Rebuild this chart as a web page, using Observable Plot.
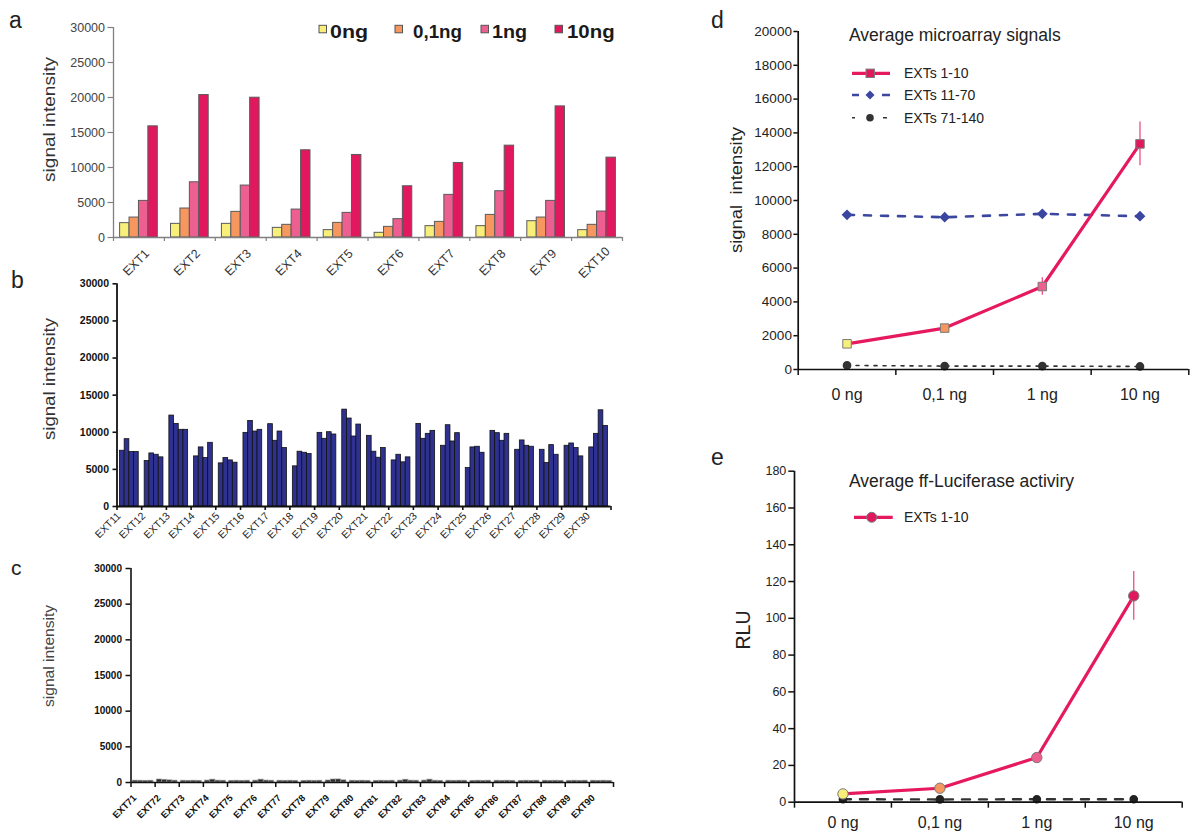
<!DOCTYPE html>
<html><head><meta charset="utf-8">
<script src="https://cdn.jsdelivr.net/npm/d3@7"></script>
<script src="https://cdn.jsdelivr.net/npm/@observablehq/plot@0.6"></script>
<style>
html,body{margin:0;padding:0;background:#fff;}
#wrap{position:relative;width:1192px;height:837px;overflow:hidden;background:#fff;}
</style></head><body><div id="wrap"></div>
<script>
// ---------- DATA ----------
// panel a
const extA = ["EXT1","EXT2","EXT3","EXT4","EXT5","EXT6","EXT7","EXT8","EXT9","EXT10"];
const dosesA = ["0ng","0,1ng","1ng","10ng"];
const doseColors = ["#f7ef7a","#f5975f","#ec5f90","#e2185e"];
const a0  = [2050,1950,1950,1380,1050,670,1620,1620,2330,1050];
const a01 = [2850,4140,3660,1810,2090,1520,2230,3230,2850,1810];
const a1  = [5230,7890,7420,3990,3520,2620,6090,6610,5230,3710];
const a10 = [15880,20350,19970,12460,11790,7320,10650,13120,18730,11410];
const yTicksABC = [0,5000,10000,15000,20000,25000,30000];
// panel b
const extB = ["EXT11","EXT12","EXT13","EXT14","EXT15","EXT16","EXT17","EXT18","EXT19","EXT20","EXT21","EXT22","EXT23","EXT24","EXT25","EXT26","EXT27","EXT28","EXT29","EXT30"];
const b0 = [7510,6120,12250,6750,5810,9920,11090,5410,9920,13050,9520,6210,11130,8180,5190,10190,7640,7640,8180,7960];
const b1 = [9070,7150,11130,7960,6530,11530,8850,7380,9120,11850,7380,6970,9120,10950,7960,9880,8900,5860,8490,9790];
const b2 = [7330,6970,10330,6530,6210,10100,10100,7240,10010,9430,6570,5950,9790,8760,8050,8850,8180,8270,7870,12960];
const b3 = [7330,6620,10330,8580,5900,10330,7870,7060,9700,11040,7870,6620,10190,9880,7240,9790,8050,6970,6750,10860];
// panel c
const extC = ["EXT71","EXT72","EXT73","EXT74","EXT75","EXT76","EXT77","EXT78","EXT79","EXT80","EXT81","EXT82","EXT83","EXT84","EXT85","EXT86","EXT87","EXT88","EXT89","EXT90"];
const c0 = [260,420,250,270,240,260,250,240,280,250,240,260,270,250,240,250,240,250,240,250];
const c1 = [250,380,240,400,250,400,240,250,420,240,250,390,400,240,250,240,250,240,250,240];
const c2 = [240,300,250,260,240,270,250,240,430,250,240,260,250,250,240,250,240,250,240,250];
const c3 = [250,260,240,250,250,250,240,250,300,240,250,250,240,250,250,240,250,240,250,240];
// panel d
const dosesD = ["0 ng","0,1 ng","1 ng","10 ng"];
const ext1_10   = [1520,2450,4910,13350];
const err1_10   = [100,150,520,1300];
const ext11_70  = [9150,9010,9210,9070];
const ext71_140 = [240,200,200,180];
const seriesD = ["EXTs 1-10","EXTs 11-70","EXTs 71-140"];
const yTicksD = [0,2000,4000,6000,8000,10000,12000,14000,16000,18000,20000];
// panel e
const rlu1_10 = [4.5,7.6,24.3,112.2];
const errRlu  = [0.5,0.8,1.5,13.3];
const rluCtrl = [1.6,1.5,1.6,1.6];
const yTicksE = [0,20,40,60,80,100,120,140,160,180];

// ---------- HELPERS ----------
const W = 1192, H = 837;
const FONT = '"Liberation Sans", Arial, Helvetica, sans-serif';
const wrap = document.getElementById("wrap");
function place(svg, left, top) {
  svg.style.position = "absolute";
  svg.style.left = left + "px";
  svg.style.top = top + "px";
  wrap.appendChild(svg);
}
function grouped(cats, series, names, pad) {
  const n = series.length, w = (1 - 2 * pad) / n;
  return cats.flatMap((c, i) => series.map((s, j) => ({
    cat: c, series: names[j], value: s[i],
    x1: i + pad + j * w, x2: i + pad + (j + 1) * w
  })));
}
const baseStyle = {background: "transparent", overflow: "visible", fontFamily: FONT};

// ---------- PANEL A ----------
const rowsA = grouped(extA, [a0, a01, a1, a10], dosesA, 0.13);
place(Plot.plot({
  width: 640, height: 290, marginLeft: 113, marginRight: 18, marginTop: 27, marginBottom: 53,
  style: baseStyle,
  x: {type: "linear", domain: [0, extA.length], axis: null},
  y: {domain: [0, 30000], axis: null},
  color: {domain: dosesA, range: doseColors},
  marks: [
    Plot.rect(rowsA, {x1: "x1", x2: "x2", y1: 0, y2: "value", fill: "series", stroke: "#5a5a5a", strokeWidth: 1}),
    Plot.ruleX([0], {stroke: "#808080", strokeWidth: 1.3}),
    Plot.ruleY([0], {stroke: "#808080", strokeWidth: 1.3}),
    Plot.axisY({ticks: yTicksABC, tickSize: 5.5, tickPadding: 3, tickFormat: d => String(d), fontSize: 12.5, fill: "#444", stroke: "#808080", strokeWidth: 1.2, label: null}),
    Plot.axisX({ticks: d3.range(0, extA.length + 1), tickSize: 4, tickFormat: () => "", stroke: "#808080", strokeWidth: 1.2, label: null}),
    Plot.text(extA, {x: (d, i) => i + 0.5, frameAnchor: "bottom", text: d => d, rotate: -45, textAnchor: "middle", dy: 28, fontSize: 12.5, fill: "#333"})
  ]
}), 0, 0);

// ---------- PANEL B ----------
const rowsB = grouped(extB, [b0, b1, b2, b3], dosesA, 0.12);
place(Plot.plot({
  width: 640, height: 300, marginLeft: 116.5, marginRight: 29.5, marginTop: 13.3, marginBottom: 64,
  style: baseStyle,
  x: {type: "linear", domain: [0, extB.length], axis: null},
  y: {domain: [0, 30000], axis: null},
  marks: [
    Plot.rect(rowsB, {x1: "x1", x2: "x2", y1: 0, y2: "value", fill: "#2e3190", stroke: "#111", strokeWidth: 0.8}),
    Plot.ruleX([0], {stroke: "#111", strokeWidth: 1.8}),
    Plot.ruleY([0], {stroke: "#111", strokeWidth: 1.8}),
    Plot.axisY({ticks: yTicksABC, tickSize: 4, tickPadding: 4, tickFormat: d => String(d), fontSize: 10.5, fontWeight: "bold", fill: "#111", stroke: "#111", strokeWidth: 1.6, label: null}),
    Plot.axisX({ticks: d3.range(0, extB.length + 1), tickSize: 4, tickFormat: () => "", stroke: "#111", strokeWidth: 1.6, label: null}),
    Plot.text(extB, {x: (d, i) => i + 0.5, frameAnchor: "bottom", text: d => d, rotate: -45, textAnchor: "end", dx: -8, dy: 10, fontSize: 10.5, fill: "#222"})
  ]
}), 0, 270);

// ---------- PANEL C ----------
const rowsC = grouped(extC, [c0, c1, c2, c3], dosesA, 0.07);
place(Plot.plot({
  width: 640, height: 282, marginLeft: 130.5, marginRight: 27, marginTop: 13, marginBottom: 55,
  style: baseStyle,
  x: {type: "linear", domain: [0, extC.length], axis: null},
  y: {domain: [0, 30000], axis: null},
  marks: [
    Plot.rect(rowsC, {x1: "x1", x2: "x2", y1: 0, y2: "value", fill: "#2a2a2a", stroke: "#9a9a9a", strokeWidth: 0.7}),
    Plot.ruleX([0], {stroke: "#111", strokeWidth: 1.6}),
    Plot.ruleY([0], {stroke: "#111", strokeWidth: 1.6}),
    Plot.axisY({ticks: yTicksABC, tickSize: 5, tickPadding: 4, tickFormat: d => String(d), fontSize: 10, fontWeight: "bold", fill: "#111", stroke: "#111", strokeWidth: 1.5, label: null}),
    Plot.axisX({ticks: d3.range(0, extC.length + 1), tickSize: 5, tickFormat: () => "", stroke: "#111", strokeWidth: 1.5, label: null}),
    Plot.text(extC, {x: (d, i) => i + 0.5, frameAnchor: "bottom", text: d => d, rotate: -45, textAnchor: "end", dx: -6, dy: 16, fontSize: 9.5, fontWeight: "bold", fill: "#111"})
  ]
}), 0, 555);

// ---------- PANEL D ----------
const rowsD = dosesD.map((d, i) => ({i, dose: d, a: ext1_10[i], e: err1_10[i], b: ext11_70[i], c: ext71_140[i]}));
const xc = d => d.i + 0.5;
place(Plot.plot({
  width: 492, height: 420, marginLeft: 97.7, marginRight: 3.7, marginTop: 31, marginBottom: 51,
  style: baseStyle,
  x: {type: "linear", domain: [0, dosesD.length], axis: null},
  y: {domain: [0, 20000], axis: null},
  color: {domain: dosesD, range: doseColors},
  marks: [
    Plot.line(rowsD, {x: xc, y: "c", stroke: "#333", strokeWidth: 1.6, strokeDasharray: "3,6"}),
    Plot.dot(rowsD, {x: xc, y: "c", r: 3.6, fill: "#333", stroke: "#333"}),
    Plot.line(rowsD, {x: xc, y: "b", stroke: "#3a46a0", strokeWidth: 2.6, strokeDasharray: "7,10"}),
    Plot.dot(rowsD, {x: xc, y: "b", symbol: "diamond2", r: 3.9, fill: "#3a46a0", stroke: "#3a46a0"}),
    Plot.line(rowsD, {x: xc, y: "a", stroke: "#e6195e", strokeWidth: 3.2}),
    Plot.ruleX(rowsD, {x: xc, y1: d => d.a - d.e, y2: d => d.a + d.e, stroke: "#ec4f85", strokeWidth: 1.3}),
    Plot.dot(rowsD, {x: xc, y: "a", symbol: "square", r: 4.8, fill: "dose", stroke: "#7a7a7a", strokeWidth: 1}),
    Plot.ruleX([0], {stroke: "#111", strokeWidth: 1.7}),
    Plot.ruleY([0], {stroke: "#111", strokeWidth: 1.7}),
    Plot.axisY({ticks: yTicksD, tickSize: 4.3, tickPadding: 2, tickFormat: d => String(d), fontSize: 13.5, fill: "#222", stroke: "#111", strokeWidth: 1.5, label: null}),
    Plot.axisX({ticks: d3.range(0, dosesD.length + 1), tickSize: 6, tickFormat: () => "", stroke: "#111", strokeWidth: 1.5, label: null}),
    Plot.text(dosesD, {x: (d, i) => i + 0.5, frameAnchor: "bottom", text: d => d, dy: 30, fontSize: 16, fill: "#222"})
  ]
}), 700, 0);

// ---------- PANEL E ----------
const rowsE = dosesD.map((d, i) => ({i, dose: d, a: rlu1_10[i], e: errRlu[i], c: rluCtrl[i]}));
place(Plot.plot({
  width: 492, height: 397, marginLeft: 94, marginRight: 10.3, marginTop: 30.7, marginBottom: 35.3,
  style: baseStyle,
  x: {type: "linear", domain: [0, dosesD.length], axis: null},
  y: {domain: [0, 180], axis: null},
  color: {domain: dosesD, range: doseColors},
  marks: [
    Plot.line(rowsE, {x: xc, y: "c", stroke: "#333", strokeWidth: 2.4, strokeDasharray: "8,9"}),
    Plot.dot(rowsE, {x: xc, y: "c", r: 3.6, fill: "#222", stroke: "#222"}),
    Plot.line(rowsE, {x: xc, y: "a", stroke: "#e6195e", strokeWidth: 3.2}),
    Plot.ruleX(rowsE, {x: xc, y1: d => d.a - d.e, y2: d => d.a + d.e, stroke: "#ec4f85", strokeWidth: 1.3}),
    Plot.dot(rowsE, {x: xc, y: "a", r: 5.2, fill: "dose", stroke: "#7a7a7a", strokeWidth: 1}),
    Plot.ruleX([0], {stroke: "#111", strokeWidth: 1.7}),
    Plot.ruleY([0], {stroke: "#111", strokeWidth: 1.7}),
    Plot.axisY({ticks: yTicksE, tickSize: 5.7, tickPadding: 2.5, tickFormat: d => String(d), fontSize: 12.5, fill: "#222", stroke: "#111", strokeWidth: 1.5, label: null}),
    Plot.axisX({ticks: d3.range(0, dosesD.length + 1), tickSize: 6, tickFormat: () => "", stroke: "#111", strokeWidth: 1.5, label: null}),
    Plot.text(dosesD, {x: (d, i) => i + 0.5, frameAnchor: "bottom", text: d => d, dy: 26, fontSize: 16, fill: "#222"})
  ]
}), 700, 440);

// ---------- OVERLAY: panel letters, axis titles, titles, legends ----------
const ov = d3.select(wrap).append("svg")
  .attr("width", W).attr("height", H)
  .style("position", "absolute").style("left", "0px").style("top", "0px")
  .style("overflow", "visible").style("pointer-events", "none")
  .attr("font-family", FONT);
function T(x, y, s, o = {}) {
  const t = ov.append("text").attr("x", x).attr("y", y).text(s);
  for (const k in o) t.attr(k, o[k]);
  return t;
}
function VT(cx, cy, s, size, len, fill) {
  const t = ov.append("text")
    .attr("transform", `translate(${cx},${cy}) rotate(-90)`)
    .attr("text-anchor", "middle").attr("dy", "0.35em")
    .attr("font-size", size).attr("fill", fill)
    .style("white-space", "pre")
    .text(s);
  if (len) t.attr("textLength", len).attr("lengthAdjust", "spacingAndGlyphs");
  return t;
}
// panel letters
T(9, 28, "a", {"font-size": 23, fill: "#222"});
T(11, 288, "b", {"font-size": 23, fill: "#222"});
T(11, 575, "c", {"font-size": 21, fill: "#222"});
T(711, 28, "d", {"font-size": 23, fill: "#222"});
T(711, 465, "e", {"font-size": 23, fill: "#222"});
// y axis titles
VT(49, 119.5, "signal intensity", 17, 125, "#333");
VT(49, 379, "signal intensity", 16, 122, "#333");
VT(49, 656, "signal intensity", 14, 102, "#444");
VT(736, 190, "signal  intensity", 16, 126, "#222");
VT(743, 630, "RLU", 19.5, null, "#222");
// titles
T(849, 41, "Average microarray signals", {"font-size": 17.5, fill: "#222"});
T(849, 486.5, "Average ff-Luciferase activiry", {"font-size": 17.5, fill: "#222"});
// panel a legend
const swX = [319, 395, 481, 555], txX = [330, 413, 492, 567], txW = [38, 49, 35, 47.6];
dosesA.forEach((d, j) => {
  ov.append("rect").attr("x", swX[j]).attr("y", 25.3).attr("width", 7.5).attr("height", 7.5)
    .attr("fill", doseColors[j]).attr("stroke", "#555").attr("stroke-width", 1);
  T(txX[j], 37.5, d, {"font-size": 18.5, "font-weight": "bold",
    fill: "#1a1a1a", textLength: txW[j], lengthAdjust: "spacingAndGlyphs"});
});
// panel d legend
const legY = [73.3, 95, 117.7];
ov.append("line").attr("x1", 852).attr("x2", 890).attr("y1", legY[0]).attr("y2", legY[0]).attr("stroke", "#e6195e").attr("stroke-width", 3.2);
ov.append("rect").attr("x", 866).attr("y", legY[0] - 4.2).attr("width", 8.4).attr("height", 8.4).attr("fill", "#e2185e").attr("stroke", "#7a7a7a");
ov.append("line").attr("x1", 852).attr("x2", 890).attr("y1", legY[1]).attr("y2", legY[1]).attr("stroke", "#3a46a0").attr("stroke-width", 2.6).attr("stroke-dasharray", "7,23,8");
ov.append("path").attr("d", `M870,${legY[1]-4.5}L874.5,${legY[1]}L870,${legY[1]+4.5}L865.5,${legY[1]}Z`).attr("fill", "#3a46a0");
ov.append("line").attr("x1", 852).attr("x2", 890).attr("y1", legY[2]).attr("y2", legY[2]).attr("stroke", "#333").attr("stroke-width", 1.6).attr("stroke-dasharray", "3,28,4");
ov.append("circle").attr("cx", 870).attr("cy", legY[2]).attr("r", 3.8).attr("fill", "#333");
seriesD.forEach((s, k) => T(904, legY[k] + 5, s, {"font-size": 14, fill: "#222"}));
// panel e legend
ov.append("line").attr("x1", 854).attr("x2", 892.7).attr("y1", 517.3).attr("y2", 517.3).attr("stroke", "#e6195e").attr("stroke-width", 3.2);
ov.append("circle").attr("cx", 871.7).attr("cy", 517.3).attr("r", 5).attr("fill", "#e2185e").attr("stroke", "#7a7a7a");
T(904, 522.3, seriesD[0], {"font-size": 14, fill: "#222"});
</script>
</body></html>
